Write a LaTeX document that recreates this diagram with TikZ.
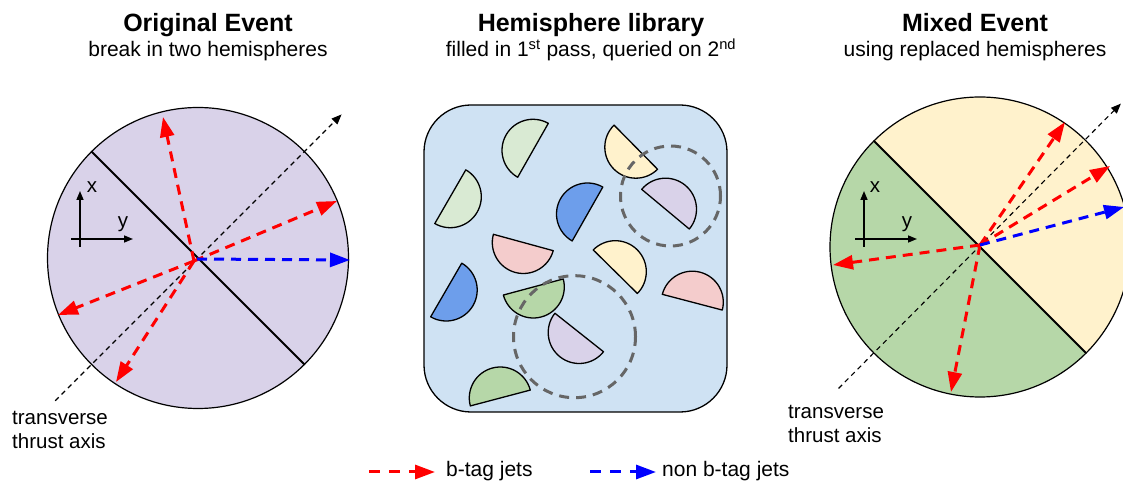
\documentclass[tikz,border=0pt]{standalone}
\usepackage{fontspec}
\setmainfont{Liberation Sans}
\usetikzlibrary{arrows.meta,calc}
\definecolor{lav}{HTML}{D9D2E9}
\definecolor{libblue}{HTML}{CFE2F3}
\definecolor{lgreen}{HTML}{D9EAD3}
\definecolor{mblue}{HTML}{6D9EEB}
\definecolor{hpink}{HTML}{F4CCCC}
\definecolor{lyellow}{HTML}{FFF2CC}
\definecolor{mgreen}{HTML}{B6D7A8}
\definecolor{dgray}{HTML}{666666}
\newcommand{\hemi}[4]{\draw[hemistyle, fill=#1] (#2,#3) ++(#4-90:31) arc[start angle=#4-90, end angle=#4+90, radius=31] -- cycle;}
\tikzset{
  title/.style={font=\fontsize{25}{30}\selectfont\bfseries, anchor=base, inner sep=0pt},
  sub/.style={font=\fontsize{21}{25}\selectfont, anchor=base, inner sep=0pt},
  lbl/.style={font=\fontsize{20.5}{24}\selectfont, inner sep=0pt},
  jet/.style={line width=3pt, dash pattern=on 10pt off 7pt, -{Triangle[length=20pt,width=14pt]}},
  bjet/.style={jet, red},
  nbjet/.style={jet, blue},
  thrust/.style={line width=1.1pt, dash pattern=on 5pt off 4pt, -{Triangle[length=10pt,width=8pt]}},
  axarrow/.style={line width=1.5pt, -{Triangle[length=9pt,width=7pt]}},
  evcircle/.style={circle, draw, line width=1.2pt, minimum size=301pt, inner sep=0pt},
  divider/.style={line width=1.8pt},
  hemistyle/.style={line width=1.3pt, line join=round},
  pick/.style={dgray, line width=3pt, dash pattern=on 10pt off 7pt},
}
\begin{document}
\begin{tikzpicture}[x=1pt,y=1pt]
\useasboundingbox (0,0) rectangle (1123,484);
\clip (0,0) rectangle (1123,484);

% ---------- titles ----------
\node[title] (t1) at (208,452) {Original Event};
\node[sub] (s1) at (208,427) {break in two hemispheres};
\node[title] (t2) at (591,452) {Hemisphere library};
\node[sub] (s2) at (591,427) {filled in 1\textsuperscript{st} pass, queried on 2\textsuperscript{nd}};
\node[title] (t3) at (975,452) {Mixed Event};
\node[sub] (s3) at (975,427) {using replaced hemispheres};

% ---------- original event ----------
\node[evcircle, fill=lav] (LC) at (198,226) {};
\draw[divider] (LC.135) -- (LC.-45);
\coordinate (LTa) at ($(LC.center)+(225:202)$);
\coordinate (LTb) at ($(LC.center)+(45:203)$);
\draw[thrust] (LTa) -- (LTb);
\coordinate (Lx0) at (80,237);
\coordinate (Lx1) at (80,293);
\coordinate (Ly0) at (71,245);
\coordinate (Ly1) at (133,245);
\draw[axarrow] (Lx0) -- (Lx1);
\draw[axarrow] (Ly0) -- (Ly1);
\node[lbl] (Lxl) at (92,297) {x};
\node[lbl] (Lyl) at (123,260) {y};
\coordinate (LJ) at (194,223);
\coordinate (LJb) at (197,225);
\coordinate (LJ1) at (163,367);
\coordinate (LJ2) at (337,283);
\coordinate (LJ3) at (58,169);
\coordinate (LJ4) at (116,102);
\coordinate (LJ5) at (350,224);
\draw[bjet] (LJ) -- (LJ1);
\draw[bjet] (LJ) -- (LJ2);
\draw[bjet] (LJ) -- (LJ3);
\draw[bjet] (LJ) -- (LJ4);
\draw[nbjet] (LJb) -- (LJ5);
\node[lbl, align=left, anchor=base west] (Lta) at (12,35) {transverse\\thrust axis};

% ---------- hemisphere library ----------
\node[draw, fill=libblue, line width=1.3pt, rounded corners=47pt, minimum width=303pt, minimum height=307pt, inner sep=0pt] (lib) at (575.5,225.5) {};
\hemi{lgreen}{533}{333.7}{150.4}
\hemi{lgreen}{450.3}{287.3}{-30}
\hemi{mblue}{587.5}{270}{150.4}
\hemi{lyellow}{635.8}{336.8}{-135.4}
\hemi{lav}{665.5}{274.8}{50.2}
\hemi{hpink}{523.3}{241.5}{-105.3}
\hemi{lyellow}{615.3}{212.3}{45.4}
\hemi{hpink}{692.3}{181.8}{75.3}
\hemi{mblue}{446.2}{194}{-30.1}
\hemi{mgreen}{533.3}{197}{-75}
\hemi{lav}{579.2}{151.5}{-128.4}
\hemi{mgreen}{500.3}{86}{104.8}
\coordinate (P1) at (670.5,288);
\coordinate (P2) at (574.5,147.3);
\draw[pick] (P1) circle[radius=50];
\draw[pick] (P2) circle[radius=61];

% ---------- mixed event ----------
\coordinate (RCc) at (980,237);
\fill[lyellow] (RCc) ++(-45:150) arc[start angle=-45, end angle=135, radius=150] -- cycle;
\fill[mgreen] (RCc) ++(135:150) arc[start angle=135, end angle=315, radius=150] -- cycle;
\node[evcircle, minimum size=300pt] (RC) at (RCc) {};
\draw[divider] (RC.135) -- (RC.-45);
\coordinate (RTa) at ($(RC.center)+(225:200)$);
\coordinate (RTb) at ($(RC.center)+(45.5:201)$);
\draw[thrust] (RTa) -- (RTb);
\coordinate (Rx0) at (864,237);
\coordinate (Rx1) at (864,293);
\coordinate (Ry0) at (855,245);
\coordinate (Ry1) at (917,245);
\draw[axarrow] (Rx0) -- (Rx1);
\draw[axarrow] (Ry0) -- (Ry1);
\node[lbl] (Rxl) at (875,297) {x};
\node[lbl] (Ryl) at (907,260) {y};
\coordinate (RJ) at (980,239);
\coordinate (RJ1) at (1065,362);
\coordinate (RJ2) at (1110,318);
\coordinate (RJ3) at (833,219);
\coordinate (RJ4) at (951,92);
\coordinate (RJ5) at (1124,277);
\draw[bjet] (RJ) -- (RJ1);
\draw[bjet] (RJ) -- (RJ2);
\draw[bjet] (RJ) -- (RJ3);
\draw[bjet] (RJ) -- (RJ4);
\draw[nbjet] (RJ) -- (RJ5);
\node[lbl, align=left, anchor=base west] (Rta) at (788,41.3) {transverse\\thrust axis};

% ---------- legend ----------
\coordinate (Lg1a) at (369,12);
\coordinate (Lg1b) at (435,12);
\coordinate (Lg2a) at (590,12);
\coordinate (Lg2b) at (656,12);
\draw[bjet, dash pattern=on 11pt off 9pt] (Lg1a) -- (Lg1b);
\draw[nbjet, dash pattern=on 11pt off 9pt] (Lg2a) -- (Lg2b);
\node[lbl, font=\fontsize{21}{25}\selectfont, anchor=base west] (Lg1t) at (446,7.3) {b-tag jets};
\node[lbl, font=\fontsize{21}{25}\selectfont, anchor=base west] (Lg2t) at (662,7.3) {non b-tag jets};
\end{tikzpicture}
\end{document}
